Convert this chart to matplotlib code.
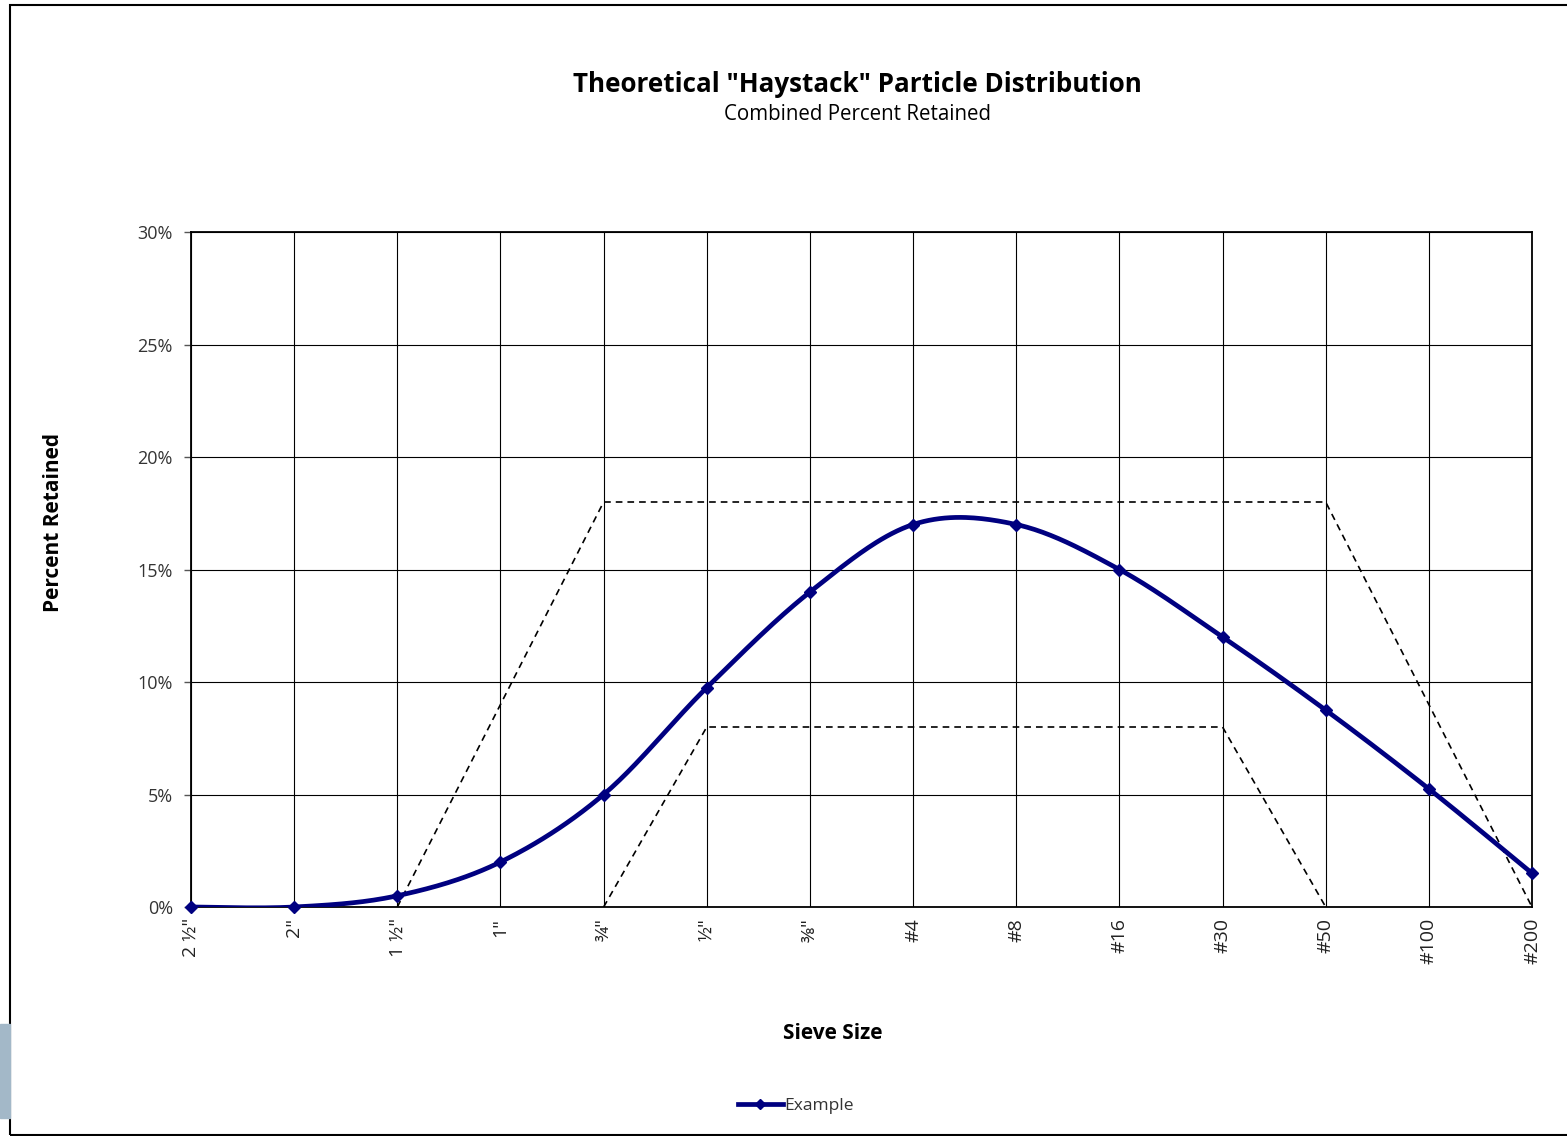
import numpy as np
import matplotlib.pyplot as plt
from matplotlib.patches import Rectangle
from matplotlib.ticker import PercentFormatter

plt.rcParams['font.family'] = ['Open Sans', 'DejaVu Sans']

# sieve sizes and percent retained
sieves = ['2 \u00bd"', '2"', '1 \u00bd"', '1"', '\u00be"', '\u00bd"', '\u215c"',
          '#4', '#8', '#16', '#30', '#50', '#100', '#200']
retained = [0.0, 0.0, 0.5, 2.0, 5.0, 9.75, 14.0, 17.0, 17.0, 15.0, 12.0, 8.75, 5.25, 1.5]

# haystack envelope (index of sieve, percent)
upper_idx = [2, 4, 11, 13]
upper_val = [0, 18, 18, 0]
lower_idx = [4, 5, 10, 11]
lower_val = [0, 8, 8, 0]


def smooth(xs, ys, n=40):
    # excel style smoothed line (bezier through points)
    p = np.column_stack([xs, ys]).astype(float)
    p_ext = np.vstack([p[0], p, p[-1]])
    out = []
    for i in range(len(p) - 1):
        p0, p1, p2, p3 = p_ext[i], p_ext[i + 1], p_ext[i + 2], p_ext[i + 3]
        c1 = p1 + (p2 - p0) / 6
        c2 = p2 - (p3 - p1) / 6
        t = np.linspace(0, 1, n)[:, None]
        seg = (1 - t) ** 3 * p1 + 3 * (1 - t) ** 2 * t * c1 + 3 * (1 - t) * t ** 2 * c2 + t ** 3 * p2
        out.append(seg if i == 0 else seg[1:])
    out = np.vstack(out)
    return out[:, 0], out[:, 1]


x = np.arange(len(sieves))
fig = plt.figure(figsize=(15.67, 11.36), dpi=100)
ax = fig.add_axes([191 / 1567, 1 - 907 / 1136, (1532 - 191) / 1567, (907 - 232) / 1136])

sx, sy = smooth(x, retained)
ax.plot(sx, sy, color='#000080', lw=3.4, zorder=4, solid_capstyle='round')
ax.plot(x, retained, ls='none', marker='D', ms=6, color='#000080', zorder=5, clip_on=False)
ax.plot([], [], color='#000080', lw=3.4, marker='D', ms=5, label='Example')

ax.plot(upper_idx, upper_val, color='black', ls=(0, (4, 3)), lw=1.2, zorder=3)
ax.plot(lower_idx, lower_val, color='black', ls=(0, (4, 3)), lw=1.2, zorder=3)

ax.set_xlim(0, len(sieves) - 1)
ax.set_ylim(0, 30)
ax.set_yticks(range(0, 31, 5))
ax.yaxis.set_major_formatter(PercentFormatter(decimals=0))
ax.set_xticks(x)
ax.set_xticklabels(sieves, rotation=90, fontsize=14, color='#222222')
ax.tick_params(axis='x', length=0, pad=8)
ax.tick_params(axis='y', length=5, width=1, color='#555555', labelsize=13, labelcolor='#333333', pad=8)
ax.grid(True, color='black', lw=0.8)
ax.set_axisbelow(True)
for s in ax.spines.values():
    s.set_linewidth(1.3)
    s.set_color('black')

ax.set_xlabel('Sieve Size', fontsize=15, fontweight='bold')
ax.set_ylabel('Percent Retained', fontsize=15, fontweight='bold')
ax.xaxis.set_label_coords(0.4785, -0.172)
ax.yaxis.set_label_coords(-0.095, 0.57)

fig.text(0.5475, 1 - 84 / 1136, 'Theoretical "Haystack" Particle Distribution',
         ha='center', va='center', fontsize=18.7, fontweight='bold')
fig.text(0.5475, 1 - 114 / 1136, 'Combined Percent Retained',
         ha='center', va='center', fontsize=14.8)

fig.legend(loc='center', bbox_to_anchor=(0.508, 1 - 1106 / 1136), frameon=False,
           fontsize=12.5, handlelength=2.6, handletextpad=0.1, labelcolor='#333333')

# outer chart border and the little side tab
fig.patches.append(Rectangle((10 / 1567, 1 - 1135 / 1136), 1.0, 1130 / 1136,
                             transform=fig.transFigure, fill=False, lw=1.5,
                             edgecolor='black', figure=fig))
fig.patches.append(Rectangle((0, 1 - 1118 / 1136), 10 / 1567, 94 / 1136,
                             transform=fig.transFigure, color='#a3b8c8', figure=fig))

fig.savefig('out.png', dpi=100)
